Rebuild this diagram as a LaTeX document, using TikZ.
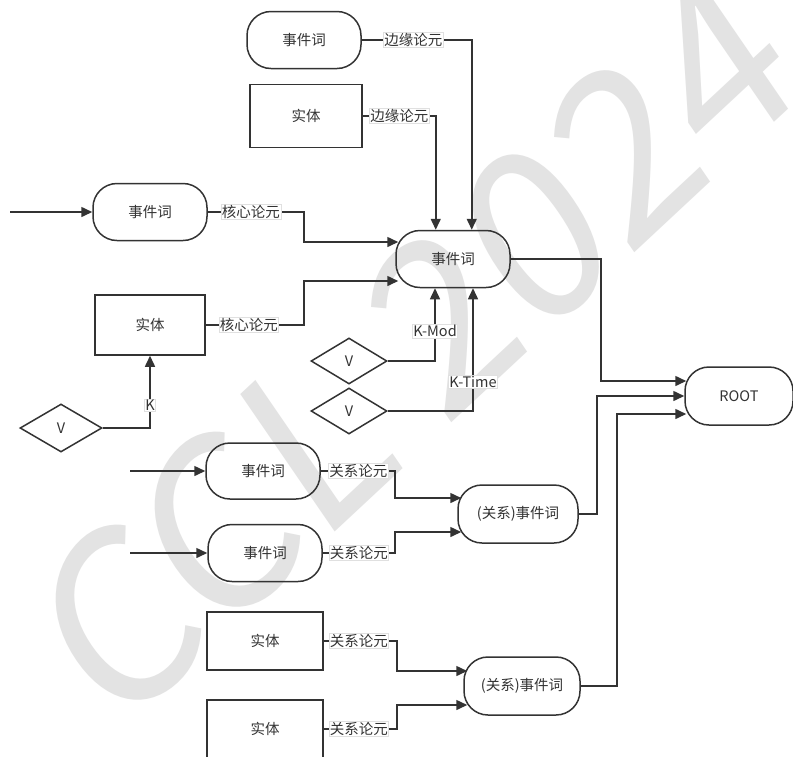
\documentclass[tikz,border=0pt]{standalone}
\usepackage{fontspec}
\setmainfont{Noto Sans CJK SC}
\usetikzlibrary{shapes.geometric,arrows.meta,calc}
\definecolor{ln}{HTML}{333333}
\definecolor{wm}{HTML}{E3E3E3}
\begin{document}
\begin{tikzpicture}[x=1pt,y=-1pt,
  every node/.style={font=\fontsize{14.5}{17}\selectfont, text=ln},
  pill/.style={draw=ln, line width=1.5pt, rounded corners=24pt, minimum width=114pt, minimum height=57pt, inner sep=0pt},
  ent/.style={draw=ln, line width=1.5pt, minimum width=112pt, minimum height=62pt, inner sep=0pt},
  dia/.style={draw=ln, line width=1.5pt, shape=diamond, minimum width=76pt, minimum height=46pt, inner sep=0pt},
  conn/.style={draw=ln, line width=1.5pt},
  arr/.style={conn, -{Triangle[length=11pt,width=10pt]}},
  lab/.style={fill=white, draw=black!12, line width=0.4pt, inner sep=0.8pt, font=\fontsize{14.5}{16}\selectfont}
]
\useasboundingbox (0,0) rectangle (793,756);
\clip (0,0) rectangle (793,756);
\fill[white] (0,0) rectangle (793,756);

% watermark
\node[rotate=43, text=wm, font=\fontsize{225}{230}\selectfont, xslant=0.15] (wmk) at (415,345) {CCL 2024};

% nodes
\node[pill] (ev1) at (304,40) {事件词};
\node[ent, minimum width=112pt, minimum height=63pt] (en1) at (306,116) {实体};
\node[pill] (evc) at (453,259) {事件词};
\node[pill] (ev2) at (150,212) {事件词};
\node[ent, minimum width=110pt, minimum height=60pt] (en2) at (150,325) {实体};
\node[dia, minimum width=82pt, minimum height=48pt] (v1) at (61,428) {V};
\node[dia] (v2) at (349,361) {V};
\node[dia] (v3) at (349,411) {V};
\node[pill, minimum width=108pt, minimum height=58pt] (root) at (739,396) {ROOT};
\node[pill, minimum width=120pt, minimum height=58pt] (rel1) at (518,514) {(关系)事件词};
\node[pill, minimum height=56pt] (evA) at (263,471) {事件词};
\node[pill] (evB) at (265,553) {事件词};
\node[pill, minimum width=116pt, minimum height=58pt] (rel2) at (522,686) {(关系)事件词};
\node[ent, minimum width=116pt, minimum height=58pt] (enC) at (265,641) {实体};
\node[ent, minimum width=116pt, minimum height=58pt] (enD) at (265,729) {实体};

% free ends
\coordinate (in1) at (10,212);
\coordinate (in2) at (130,471);
\coordinate (in3) at (130,553);

% top edges into central event
\draw[arr] (ev1.east) -- node[lab, pos=0.47] {边缘论元} ($(ev1.east)+(110,0)$) coordinate (c1) -- (c1 |- evc.north);
\draw[arr] (en1.east) -- node[lab, pos=0.5] {边缘论元} ($(en1.east)+(73,0)$) coordinate (c2) -- (c2 |- evc.north);

% core arguments
\draw[arr] (in1) -- (ev2.west);
\draw[arr] (ev2.east) -- node[lab, pos=0.45] {核心论元} ($(ev2.east)+(96,0)$) coordinate (c3) |- ($(evc.west)+(3,-17)$);
\draw[arr] (en2.east) -- node[lab, pos=0.44] {核心论元} ($(en2.east)+(98,0)$) coordinate (c4) |- ($(evc.west)+(3,22)$);

% K edges
\draw[arr] (v1.east) -| node[lab, pos=0.66] {K} (en2.south);
\draw[arr] (v2.east) -| node[lab, pos=0.705] {K-Mod} ($(evc.south)+(-18,0)$);
\draw[arr] (v3.east) -| node[lab, pos=0.62] {K-Time} ($(evc.south)+(20,0)$);

% to ROOT
\draw[arr] (evc.east) -- ($(evc.east)+(90,0)$) coordinate (c5) |- ($(root.west)+(2,-15)$);
\draw[arr] (rel1.east) -- ($(rel1.east)+(18,0)$) coordinate (c6) |- (root.west);
\draw[arr] (rel2.east) -- ($(rel2.east)+(36,0)$) coordinate (c7) |- ($(root.west)+(2,18)$);

% relation arguments
\draw[arr] (in2) -- (evA.west);
\draw[arr] (in3) -- (evB.west);
\draw[arr] (evA.east) -- node[lab, pos=0.51] {关系论元} ($(evA.east)+(74,0)$) coordinate (c8) |- ($(rel1.west)+(4,-16)$);
\draw[arr] (evB.east) -- node[lab, pos=0.5] {关系论元} ($(evB.east)+(72,0)$) coordinate (c9) |- ($(rel1.west)+(4,18)$);
\draw[arr] (enC.east) -- node[lab, pos=0.48] {关系论元} ($(enC.east)+(73,0)$) coordinate (c10) |- ($(rel2.west)+(4,-15)$);
\draw[arr] (enD.east) -- node[lab, pos=0.48] {关系论元} ($(enD.east)+(73,0)$) coordinate (c11) |- ($(rel2.west)+(4,19)$);
\end{tikzpicture}
\end{document}
